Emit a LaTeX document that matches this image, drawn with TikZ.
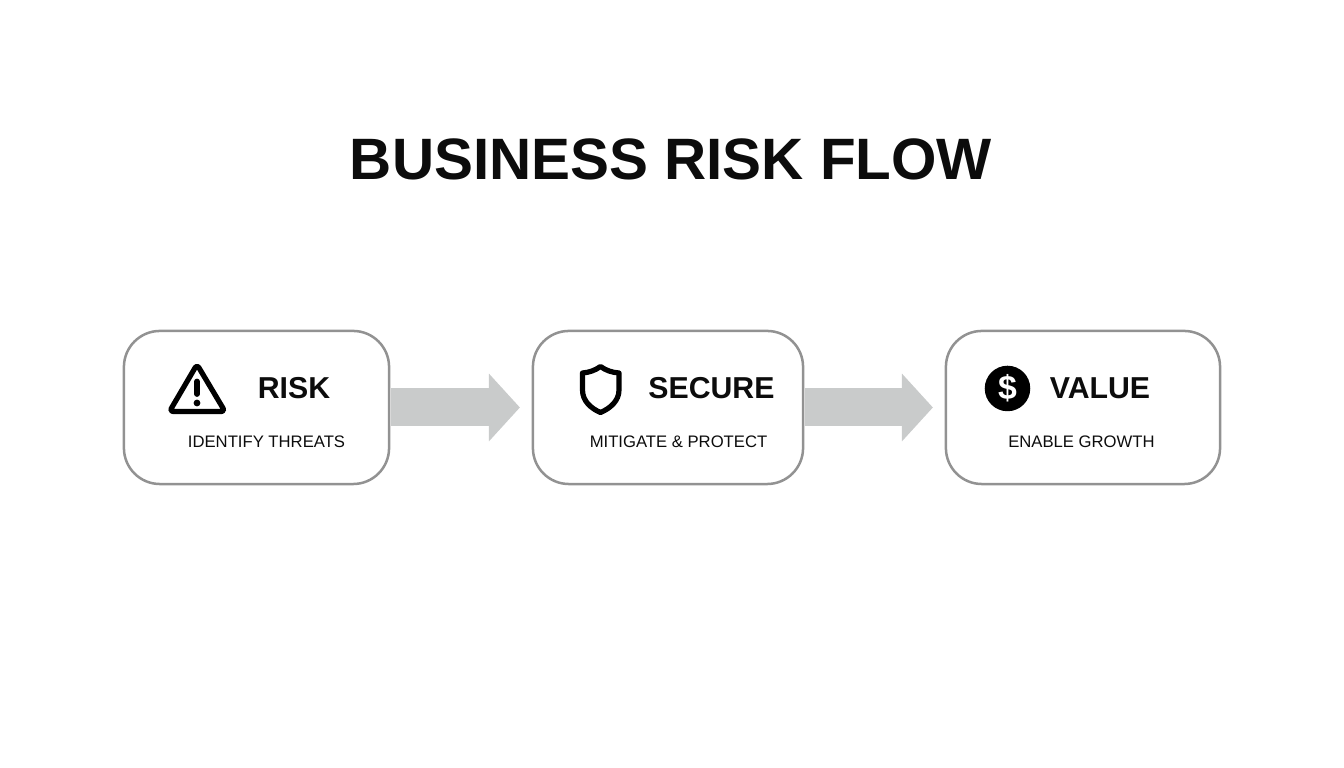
\documentclass[tikz,border=0pt]{standalone}
\usepackage{fontspec}
\setmainfont{Liberation Sans}
\usetikzlibrary{arrows.meta}
\definecolor{boxgray}{HTML}{929292}
\definecolor{flowgray}{HTML}{C9CBCB}
\definecolor{inkblack}{HTML}{0C0C0C}
\tikzset{
  stepbox/.style={draw=boxgray,line width=.025cm,fill=white,rounded corners=.36cm,inner sep=0pt,outer sep=0pt},
  heading/.style={inner sep=0pt,text=inkblack,font=\fontsize{8.6pt}{10pt}\selectfont\bfseries},
  subtext/.style={inner sep=0pt,text=inkblack,font=\fontsize{4.74pt}{6pt}\selectfont},
  flow/.style={draw=flowgray,line width=.38cm,-{Triangle[width=.66cm,length=.31cm]},shorten >=.13cm,shorten <=.015cm},
  icon/.style={draw=black,line width=.052cm,line join=round}
}
\begin{document}
\begin{tikzpicture}[x=.01cm,y=-.01cm]
  \useasboundingbox (0,0) rectangle (1344,768);

  \node[inner sep=0pt,text=inkblack,font=\fontsize{16.6pt}{20pt}\selectfont\bfseries] (title) at (671,159) {BUSINESS RISK FLOW};

  \node[stepbox,minimum width=2.65cm,minimum height=1.53cm] (risk) at (256.5,407.5) {};
  \node[stepbox,minimum width=2.70cm,minimum height=1.53cm] (secure) at (668,407.5) {};
  \node[stepbox,minimum width=2.74cm,minimum height=1.53cm] (value) at (1083,407.5) {};

  \foreach \from/\to in {risk/secure,secure/value}
    \draw[flow] (\from) -- (\to);

  \node[heading] (riskhead) at (294,388.5) {RISK};
  \node[heading] (securehead) at (711.5,388.5) {SECURE};
  \node[heading] (valuehead) at (1100,388.5) {VALUE};

  \node[subtext] (risksub) at (266.5,441.5) {IDENTIFY THREATS};
  \node[subtext] (securesub) at (678.5,441.5) {MITIGATE \& PROTECT};
  \node[subtext] (valuesub) at (1081.5,441.5) {ENABLE GROWTH};

  % warning sign
  \draw[icon,rounded corners=.035cm] (197,364.5) -- (225,411.5) -- (169.5,411.5) -- cycle;
  \draw[line width=.058cm,line cap=round] (197,381.5) -- (197,394);
  \fill (197,403) circle (.034cm);

  % shield
  \draw[icon] (600.5,366.5) .. controls (595,370.5) and (589,372.5) .. (582.5,373)
    -- (582.5,390) .. controls (582.5,401) and (591,408.5) .. (600.5,412.5)
    .. controls (610,408.5) and (619,401) .. (619,390)
    -- (619,373) .. controls (612,372.5) and (606,370.5) .. (600.5,366.5) -- cycle;

  % dollar coin
  \node[circle,fill=black,minimum size=.455cm,inner sep=0pt,text=white,font=\fontsize{9.6pt}{10pt}\selectfont\bfseries] (coin) at (1007.5,388.5) {\$};

\end{tikzpicture}
\end{document}
